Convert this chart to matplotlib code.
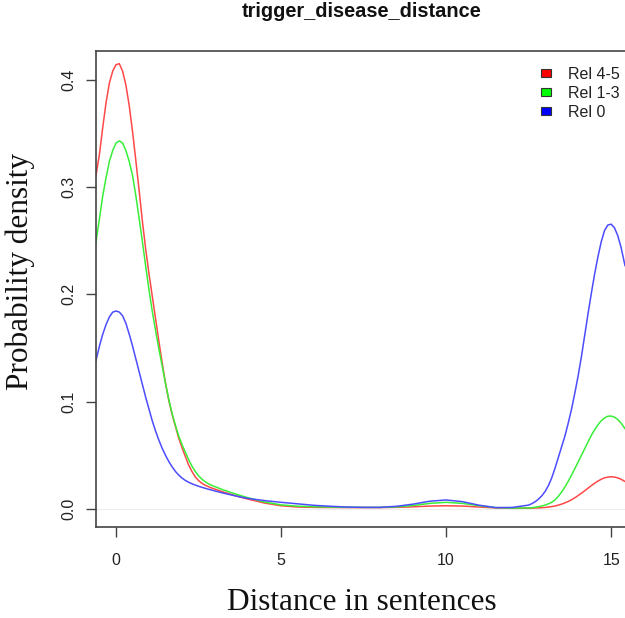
import matplotlib
matplotlib.use("Agg")
import matplotlib.pyplot as plt
from matplotlib.patches import Rectangle

# Density estimates of the trigger-disease distance, by relevance group
dist = [-0.61, -0.5, -0.4, -0.3, -0.2, -0.1, 0.0, 0.1, 0.2, 0.3, 0.4, 0.5,
        0.6, 0.7, 0.8, 0.9, 1.0, 1.1, 1.2, 1.3, 1.4, 1.5, 1.6, 1.7, 1.8, 1.9,
        2.0, 2.1, 2.2, 2.3, 2.4, 2.5, 2.6, 2.7, 2.8, 2.9, 3.0,
        3.25, 3.5, 3.75, 4.0,
        4.5, 5.0, 5.5, 6.0, 6.5, 7.0, 7.5, 8.0, 8.5, 9.0, 9.5, 10.0, 10.5,
        11.0, 11.5, 12.0, 12.5,
        12.6, 12.7, 12.8, 12.9, 13.0, 13.1, 13.2, 13.3, 13.4, 13.5, 13.6,
        13.7, 13.8, 13.9, 14.0, 14.1, 14.2, 14.3, 14.4, 14.5, 14.6, 14.7,
        14.8, 14.9, 15.0, 15.1, 15.2, 15.3, 15.42]

rel_4_5 = [0.310, 0.331, 0.356, 0.379, 0.397, 0.408, 0.414, 0.415, 0.408,
           0.395, 0.376, 0.352, 0.325, 0.297, 0.268, 0.242, 0.219, 0.198,
           0.177, 0.156, 0.136, 0.117, 0.101, 0.088, 0.077, 0.066, 0.057,
           0.049, 0.041, 0.035, 0.030, 0.0265, 0.0240, 0.0222, 0.0208,
           0.0195, 0.0185,
           0.0158, 0.0135, 0.0112, 0.0092,
           0.0055, 0.003, 0.0018, 0.0015, 0.0014, 0.0013, 0.0013, 0.0013,
           0.0015, 0.002, 0.0027, 0.003, 0.0027, 0.0018, 0.0010, 0.0006,
           0.0007,
           0.0008, 0.0009, 0.0010, 0.0012, 0.0014, 0.0018, 0.0022, 0.0028,
           0.0036, 0.0045, 0.0057, 0.0070, 0.0086, 0.0104, 0.0125, 0.0147,
           0.0170, 0.0194, 0.0218, 0.0240, 0.0260, 0.0277, 0.0290, 0.0297,
           0.0300, 0.0297, 0.0290, 0.0277, 0.0256]

rel_1_3 = [0.248, 0.271, 0.292, 0.309, 0.324, 0.334, 0.341, 0.343, 0.341,
           0.334, 0.324, 0.311, 0.292, 0.271, 0.249, 0.226, 0.204, 0.184,
           0.166, 0.149, 0.133, 0.117, 0.102, 0.089, 0.078, 0.068, 0.060,
           0.053, 0.046, 0.040, 0.035, 0.031, 0.0278, 0.0255, 0.0235,
           0.0220, 0.0208,
           0.0178, 0.0152, 0.0127, 0.0105,
           0.0065, 0.0038, 0.0026, 0.0021, 0.0018, 0.0016, 0.0015, 0.0015,
           0.0019, 0.0032, 0.0052, 0.0062, 0.0052, 0.0030, 0.0013, 0.0008,
           0.0010,
           0.0012, 0.0016, 0.0021, 0.0028, 0.0036, 0.0048, 0.0062, 0.0085,
           0.0118, 0.0158, 0.0205, 0.0258, 0.0315, 0.0376, 0.0438, 0.0500,
           0.0562, 0.0625, 0.0686, 0.0739, 0.0785, 0.0822, 0.0849, 0.0864,
           0.0866, 0.0856, 0.0834, 0.0801, 0.0749]

rel_0 = [0.138, 0.152, 0.163, 0.172, 0.179, 0.1834, 0.1845, 0.1835, 0.180,
         0.173, 0.163, 0.152, 0.140, 0.128, 0.116, 0.104, 0.093, 0.082,
         0.0725, 0.0640, 0.0565, 0.0500, 0.0442, 0.0393, 0.0350, 0.0316,
         0.0288,
         0.0266, 0.0249, 0.0235, 0.0223, 0.0212, 0.0202, 0.0193, 0.0184,
         0.0176, 0.0168,
         0.0148, 0.013, 0.0113, 0.0098,
         0.0078, 0.0062, 0.0048, 0.0034, 0.0025, 0.0018, 0.0015, 0.0015,
         0.0025, 0.0045, 0.0072, 0.0084, 0.0068, 0.0035, 0.0013, 0.0014,
         0.0036,
         0.0050, 0.0068, 0.0092, 0.0123, 0.0163, 0.0218, 0.029, 0.038,
         0.048, 0.058, 0.068, 0.080, 0.093, 0.108, 0.124, 0.142, 0.162,
         0.182, 0.201, 0.219, 0.235, 0.249, 0.2595, 0.2646, 0.2654, 0.2621,
         0.2548, 0.2439, 0.2268]

series_labels = ["Rel 4-5", "Rel 1-3", "Rel 0"]
line_colors = ["#ff4848", "#38ee38", "#4c4cff"]
legend_colors = ["#ff0000", "#00ff00", "#0000ff"]

x_ticks = [0, 5, 10, 15]
y_ticks = [0.0, 0.1, 0.2, 0.3, 0.4]

W, H = 625, 618
fig = plt.figure(figsize=(W / 100, H / 100), dpi=100)
ax_left, ax_right, ax_top, ax_bottom = 96, 625, 51, 527
ax = fig.add_axes([ax_left / W, 1 - ax_bottom / H,
                   (ax_right - ax_left) / W, (ax_bottom - ax_top) / H])

ax.axhline(0, color="#eeeeee", lw=0.8, zorder=1)
for ys, c in zip([rel_4_5, rel_1_3, rel_0], line_colors):
    ax.plot(dist, ys, color=c, lw=1.1, zorder=2, solid_joinstyle="round")

ax.set_xlim(-0.606, 15.42)
ax.set_ylim(-0.0168, 0.4268)

ax.set_xticks(x_ticks)
ax.set_xticklabels([str(t) for t in x_ticks])
ax.set_yticks(y_ticks)
ax.set_yticklabels([f"{t:.1f}" for t in y_ticks], rotation=90, va="center")

for lab in ax.get_xticklabels() + ax.get_yticklabels():
    lab.set_fontfamily("Liberation Sans")
    lab.set_fontsize(11.5)
    lab.set_color("#222222")
ax.tick_params(axis="both", direction="out", length=7, width=1.0,
               color="#444444")
ax.tick_params(axis="x", pad=12)
ax.tick_params(axis="y", pad=7)

for side in ["left", "bottom", "top"]:
    ax.spines[side].set_color("#444444")
    ax.spines[side].set_linewidth(1.2)
ax.spines["right"].set_visible(False)

fig.text(362 / W, 1 - 610 / H, "Distance in sentences", ha="center",
         va="baseline", family="Liberation Serif", fontsize=22.5,
         color="#111111")
fig.text(20 / W, 1 - 272 / H, "Probability density", ha="center",
         va="center", rotation=90, family="Liberation Serif", fontsize=22.5,
         color="#111111")
fig.text(362 / W, 1 - 16.7 / H, "trigger_disease_distance", ha="center",
         va="baseline", family="Liberation Sans", fontweight="bold",
         fontsize=14.4, color="#111111")

# Legend: filled squares with labels, top right
row_y = [72.7, 91.7, 111.0]
for y, c, lab in zip(row_y, legend_colors, series_labels):
    fig.patches.append(Rectangle((541 / W, 1 - (y + 4.2) / H), 10 / W, 8.4 / H,
                                 transform=fig.transFigure, facecolor=c,
                                 edgecolor="#333333", lw=0.8))
    fig.text(568 / W, 1 - y / H, lab, ha="left", va="center_baseline",
             family="Liberation Sans", fontsize=11.5, color="#222222")

fig.savefig("out.png", dpi=100)
